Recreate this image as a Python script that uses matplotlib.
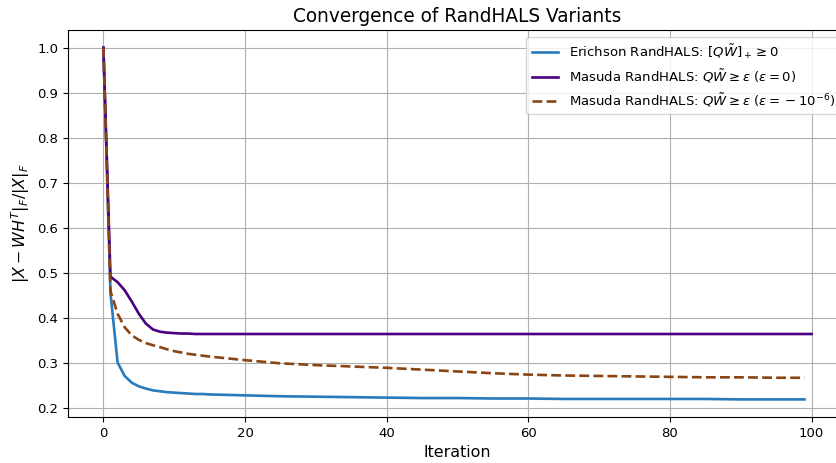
import matplotlib.pyplot as plt

iters = list(range(0, 16)) + [20, 25, 30, 35, 40, 45, 50, 55, 60, 65, 70, 75, 80, 85, 90, 95, 99]
iters_masuda0 = list(range(0, 16)) + [20, 25, 30, 35, 40, 45, 50, 55, 60, 65, 70, 75, 80, 85, 90, 95, 100]

# Erichson RandHALS
erichson = [1.0, 0.455, 0.302, 0.272, 0.257, 0.249, 0.244, 0.240, 0.238, 0.236,
            0.235, 0.234, 0.233, 0.232, 0.232, 0.231,
            0.229, 0.227, 0.226, 0.225, 0.224, 0.223, 0.223, 0.222, 0.222,
            0.221, 0.221, 0.221, 0.221, 0.221, 0.220, 0.220, 0.220]

# Masuda RandHALS, eps = 0
masuda_0 = [1.0, 0.492, 0.480, 0.462, 0.437, 0.410, 0.388, 0.375, 0.370, 0.368,
            0.367, 0.366, 0.366, 0.365, 0.365, 0.365,
            0.365, 0.365, 0.365, 0.365, 0.365, 0.365, 0.365, 0.365, 0.365,
            0.365, 0.365, 0.365, 0.365, 0.365, 0.365, 0.365, 0.365]

# Masuda RandHALS, eps = -1e-6
masuda_neg = [1.0, 0.460, 0.410, 0.380, 0.362, 0.352, 0.345, 0.340, 0.336, 0.331,
              0.327, 0.324, 0.321, 0.319, 0.317, 0.315,
              0.307, 0.300, 0.296, 0.293, 0.290, 0.286, 0.282, 0.278, 0.275,
              0.273, 0.272, 0.271, 0.270, 0.269, 0.269, 0.268, 0.268]

s = 0.955  # screenshot looks slightly scaled down
plt.rcParams['xtick.labelsize'] = 10 * s
plt.rcParams['ytick.labelsize'] = 10 * s

fig = plt.figure(figsize=(8.36, 4.63), dpi=100)
ax = fig.add_axes([68 / 836, 1 - 417 / 463, (847 - 68) / 836, (417 - 30) / 463])

ax.plot(iters, erichson, color='#2a7bbb', lw=2 * s,
        label=r'Erichson RandHALS: $[Q\tilde{W}]_+ \geq 0$')
ax.plot(iters_masuda0, masuda_0, color='#4b0082', lw=2 * s,
        label=r'Masuda RandHALS: $Q\tilde{W} \geq \varepsilon$ ($\varepsilon = 0$)')
ax.plot(iters, masuda_neg, color='#8b4513', lw=2 * s, linestyle='--',
        label=r'Masuda RandHALS: $Q\tilde{W} \geq \varepsilon$ ($\varepsilon = {}- 10^{-6}$)')

ax.set_title('Convergence of RandHALS Variants', fontsize=14 * s)
ax.set_xlabel('Iteration', fontsize=12 * s)
ax.set_ylabel(r'$|X - WH^T|_F / |X|_F$', fontsize=12 * s)
ax.grid(True)
ax.legend(loc='upper right', fontsize=10 * s)

fig.savefig('out.png', dpi=100)
